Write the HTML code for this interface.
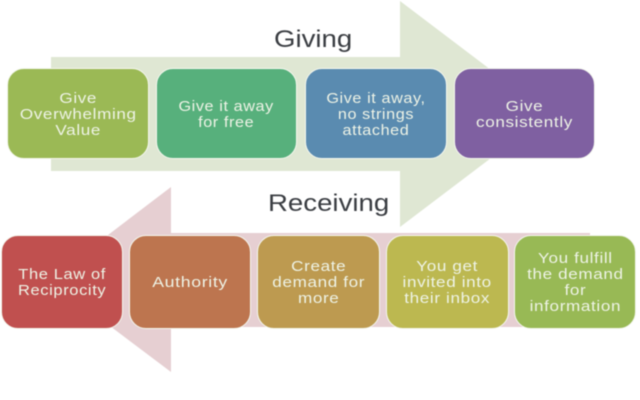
<!DOCTYPE html>
<html>
<head>
<meta charset="utf-8">
<style>
html,body{margin:0;padding:0;background:#fff}
#p{position:relative;width:640px;height:400px;overflow:hidden;background:#fff;font-family:"Liberation Sans",sans-serif;filter:blur(.4px)}
svg{position:absolute;left:0;top:0}
.b{position:absolute;box-sizing:border-box;border:1.5px solid #f4f7ee;border-radius:17px;display:flex;align-items:center;justify-content:center;text-align:center;color:#eef3e6;font-size:15px;line-height:16px;letter-spacing:.55px;white-space:nowrap}
.b span{display:inline-block;transform:translateY(1px) scaleX(1.14)}
.t{position:absolute;color:#3a3d42;font-size:24px;line-height:26px;white-space:nowrap;transform-origin:left center;transform:scaleX(1.15)}
</style>
</head>
<body>
<div id="p">
<svg width="640" height="400" viewBox="0 0 640 400">
<polygon points="51,57 400,57 400,1 549,114 400,227 400,171 51,171" fill="#dfe7d3"/>
<polygon points="590,233 171,233 171,187 49,280 171,372 171,327 590,327" fill="#e6cfd2"/>
</svg>
<div class="t" style="left:274px;top:27px">Giving</div>
<div class="t" style="left:268px;top:191px">Receiving</div>
<div class="b" style="left:7px;top:68px;width:142px;height:91px;background:#9bb955"><span>Give<br>Overwhelming<br>Value</span></div>
<div class="b" style="left:156px;top:68px;width:141px;height:91px;background:#57b07c"><span style="transform:translateY(1px) scaleX(1.08)">Give it away<br>for free</span></div>
<div class="b" style="left:305px;top:68px;width:142px;height:91px;background:#5a8bb0"><span style="transform:translateY(1px) scaleX(1.08)">Give it away,<br>no strings<br>attached</span></div>
<div class="b" style="left:454px;top:68px;width:141px;height:91px;background:#7f60a1"><span>Give<br>consistently</span></div>
<div class="b" style="left:1px;top:235px;width:122px;height:94px;background:#c0504f"><span style="transform:translateY(1px) scaleX(1.1)">The Law of<br>Reciprocity</span></div>
<div class="b" style="left:129px;top:235px;width:122px;height:94px;background:#bd754f"><span style="transform:translateY(1px) scaleX(1.18)">Authority</span></div>
<div class="b" style="left:257px;top:235px;width:123px;height:94px;background:#bd9a50"><span>Create<br>demand for<br>more</span></div>
<div class="b" style="left:386px;top:235px;width:123px;height:94px;background:#bcb850"><span>You get<br>invited into<br>their inbox</span></div>
<div class="b" style="left:514px;top:235px;width:122px;height:94px;background:#98b955"><span>You fulfill<br>the demand<br>for<br>information</span></div>
</div>
</body>
</html>
